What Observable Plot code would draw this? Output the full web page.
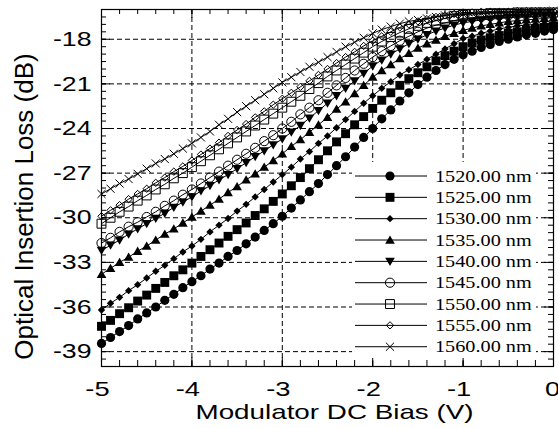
<!DOCTYPE html>
<html><head><meta charset="utf-8">
<script src="https://cdn.jsdelivr.net/npm/d3@7"></script>
<script src="https://cdn.jsdelivr.net/npm/@observablehq/plot@0.6"></script>
<style>body{margin:0;background:#fff;}</style>
</head><body><div id="chart"></div>
<script>
const bias = [-5.0,-4.9,-4.8,-4.7,-4.6,-4.5,-4.4,-4.3,-4.2,-4.1,-4.0,-3.9,-3.8,-3.7,-3.6,-3.5,-3.4,-3.3,-3.2,-3.1,-3.0,-2.9,-2.8,-2.7,-2.6,-2.5,-2.4,-2.3,-2.2,-2.1,-2.0,-1.9,-1.8,-1.7,-1.6,-1.5,-1.4,-1.3,-1.2,-1.1,-1.0,-0.9,-0.8,-0.7,-0.6,-0.5,-0.4,-0.3,-0.2,-0.1,0.0];
const wavelengths = ["1520.00 nm","1525.00 nm","1530.00 nm","1535.00 nm","1540.00 nm","1545.00 nm","1550.00 nm","1555.00 nm","1560.00 nm"];
const loss1520 = [-38.45,-38.05,-37.65,-37.25,-36.8,-36.4,-36.0,-35.55,-35.15,-34.7,-34.3,-33.9,-33.45,-33.05,-32.6,-32.2,-31.75,-31.3,-30.85,-30.4,-29.9,-29.35,-28.8,-28.25,-27.7,-27.1,-26.5,-25.9,-25.25,-24.6,-24.0,-23.35,-22.75,-22.15,-21.6,-21.05,-20.55,-20.1,-19.7,-19.35,-19.05,-18.8,-18.55,-18.35,-18.15,-18.0,-17.85,-17.7,-17.6,-17.45,-17.35];
const loss1525 = [-37.3,-36.9,-36.45,-36.05,-35.6,-35.2,-34.75,-34.35,-33.9,-33.5,-33.05,-32.6,-32.15,-31.7,-31.25,-30.8,-30.35,-29.85,-29.4,-28.9,-28.4,-27.85,-27.3,-26.7,-26.1,-25.5,-24.9,-24.35,-23.75,-23.2,-22.65,-22.1,-21.6,-21.1,-20.65,-20.25,-19.85,-19.45,-19.1,-18.8,-18.5,-18.25,-18.05,-17.9,-17.75,-17.6,-17.5,-17.4,-17.3,-17.2,-17.1];
const loss1530 = [-36.2,-35.75,-35.35,-34.9,-34.5,-34.05,-33.6,-33.2,-32.75,-32.3,-31.9,-31.45,-30.95,-30.5,-30.05,-29.55,-29.1,-28.6,-28.1,-27.6,-27.1,-26.6,-26.05,-25.55,-25.0,-24.5,-23.95,-23.4,-22.85,-22.3,-21.8,-21.3,-20.85,-20.4,-20.05,-19.7,-19.35,-19.0,-18.65,-18.3,-17.95,-17.8,-17.6,-17.45,-17.3,-17.2,-17.1,-17.05,-17.0,-16.95,-16.9];
const loss1535 = [-33.8,-33.4,-33.0,-32.65,-32.25,-31.9,-31.5,-31.1,-30.75,-30.35,-29.95,-29.55,-29.15,-28.75,-28.3,-27.9,-27.45,-27.05,-26.6,-26.15,-25.7,-25.2,-24.75,-24.25,-23.75,-23.25,-22.7,-22.2,-21.65,-21.1,-20.55,-20.1,-19.7,-19.3,-18.95,-18.6,-18.3,-18.05,-17.8,-17.6,-17.4,-17.25,-17.1,-17.0,-16.9,-16.8,-16.75,-16.7,-16.65,-16.6,-16.55];
const loss1540 = [-32.2,-31.85,-31.5,-31.1,-30.75,-30.4,-30.05,-29.7,-29.3,-28.95,-28.6,-28.2,-27.85,-27.45,-27.1,-26.7,-26.3,-25.9,-25.5,-25.1,-24.7,-24.25,-23.8,-23.3,-22.8,-22.3,-21.8,-21.3,-20.8,-20.3,-19.8,-19.4,-19.0,-18.65,-18.3,-18.0,-17.7,-17.45,-17.25,-17.05,-16.9,-16.8,-16.7,-16.65,-16.6,-16.55,-16.5,-16.5,-16.45,-16.4,-16.4];
const loss1545 = [-31.7,-31.35,-30.95,-30.6,-30.3,-29.95,-29.6,-29.2,-28.85,-28.45,-28.1,-27.7,-27.3,-26.9,-26.5,-26.1,-25.7,-25.3,-24.85,-24.45,-24.0,-23.55,-23.05,-22.6,-22.1,-21.6,-21.1,-20.6,-20.1,-19.65,-19.2,-18.8,-18.45,-18.1,-17.8,-17.5,-17.25,-17.05,-16.9,-16.75,-16.6,-16.55,-16.5,-16.45,-16.4,-16.4,-16.35,-16.35,-16.3,-16.3,-16.3];
const loss1550 = [-30.4,-30.0,-29.6,-29.25,-28.85,-28.5,-28.1,-27.75,-27.35,-27.0,-26.6,-26.2,-25.8,-25.4,-25.0,-24.6,-24.2,-23.8,-23.4,-23.0,-22.6,-22.2,-21.8,-21.35,-20.95,-20.5,-20.1,-19.7,-19.3,-18.9,-18.5,-18.15,-17.85,-17.55,-17.3,-17.1,-16.9,-16.75,-16.6,-16.45,-16.35,-16.3,-16.3,-16.25,-16.25,-16.25,-16.2,-16.2,-16.2,-16.2,-16.2];
const loss1555 = [-29.9,-29.5,-29.15,-28.75,-28.4,-28.05,-27.65,-27.3,-26.9,-26.55,-26.15,-25.75,-25.35,-24.95,-24.5,-24.1,-23.7,-23.25,-22.85,-22.4,-22.0,-21.6,-21.2,-20.8,-20.4,-20.0,-19.6,-19.2,-18.85,-18.45,-18.1,-17.8,-17.5,-17.2,-17.0,-16.8,-16.65,-16.5,-16.4,-16.3,-16.2,-16.2,-16.15,-16.15,-16.15,-16.15,-16.1,-16.1,-16.1,-16.1,-16.1];
const loss1560 = [-28.4,-28.05,-27.7,-27.4,-27.05,-26.7,-26.35,-26.05,-25.7,-25.35,-25.0,-24.6,-24.2,-23.75,-23.35,-22.9,-22.5,-22.1,-21.7,-21.3,-20.9,-20.55,-20.2,-19.85,-19.55,-19.2,-18.85,-18.5,-18.2,-17.9,-17.6,-17.35,-17.15,-16.95,-16.8,-16.7,-16.6,-16.5,-16.4,-16.35,-16.3,-16.25,-16.25,-16.2,-16.2,-16.2,-16.15,-16.15,-16.1,-16.1,-16.1];
const xTicks = [-5,-4,-3,-2,-1,0];
const yTicks = [-39,-36,-33,-30,-27,-24,-21,-18];
const xLabel = "Modulator DC Bias (V)";
const yLabel = "Optical Insertion Loss (dB)";

const R = 4.6;
function rad(size){ return Math.sqrt(size/Math.PI); }
const symCircle = {draw(c,s){const r=rad(s); c.moveTo(r,0); c.arc(0,0,r,0,2*Math.PI); c.closePath();}};
const symSquare = {draw(c,s){const h=rad(s)*0.97; c.rect(-h,-h,2*h,2*h);}};
const symDiamond = {draw(c,s){const r=rad(s)*0.8; c.moveTo(0,-r); c.lineTo(r,0); c.lineTo(0,r); c.lineTo(-r,0); c.closePath();}};
const symUp = {draw(c,s){const r=rad(s); c.moveTo(0,-r); c.lineTo(r*1.05,r*0.8); c.lineTo(-r*1.05,r*0.8); c.closePath();}};
const symDown = {draw(c,s){const r=rad(s); c.moveTo(0,r); c.lineTo(r*1.05,-r*0.8); c.lineTo(-r*1.05,-r*0.8); c.closePath();}};
const symTimes = {draw(c,s){const r=rad(s)*0.88; c.moveTo(-r,-r); c.lineTo(r,r); c.moveTo(r,-r); c.lineTo(-r,r);}};

const seriesValues = [loss1520,loss1525,loss1530,loss1535,loss1540,loss1545,loss1550,loss1555,loss1560];
const styles = [
  {symbol:symCircle, fill:"black", stroke:"none"},
  {symbol:symSquare, fill:"black", stroke:"none"},
  {symbol:symDiamond, fill:"black", stroke:"none"},
  {symbol:symUp, fill:"black", stroke:"none"},
  {symbol:symDown, fill:"black", stroke:"none"},
  {symbol:symCircle, fill:"none", stroke:"black"},
  {symbol:symSquare, fill:"none", stroke:"black"},
  {symbol:symDiamond, fill:"none", stroke:"black"},
  {symbol:symTimes, fill:"none", stroke:"black"}
];
const series = wavelengths.map((w,i)=>({label:w, rows: bias.map((b,j)=>({bias:b, loss:seriesValues[i][j]})), ...styles[i]}));

const W = 558, H = 428, ML = 101, MR = 5, MT = 9, MB = 62;
const IW = W-ML-MR, IH = H-MT-MB;
const yMinor = d3.range(-40, -15.99, 0.5);
const xMinor = d3.range(-5, 0.001, 0.2);

const marks = [
  Plot.ruleY(yTicks, {y: d=>d, stroke:"black", strokeWidth:1, strokeDasharray:"5,3"}),
  Plot.ruleX(xTicks.slice(1,-1), {x: d=>d, stroke:"black", strokeWidth:1, strokeDasharray:"5,3"})
];
series.forEach(s=>{
  marks.push(Plot.line(s.rows, {x:"bias", y:"loss", stroke:"black", strokeWidth:1}));
  marks.push(Plot.dot(s.rows, {x:"bias", y:"loss", r:R, symbol:s.symbol, fill:s.fill, stroke:s.stroke, strokeWidth:1}));
});
marks.push(
  Plot.tickY(yMinor, {y:d=>d, stroke:"black", insetRight: IW-5}),
  Plot.tickY(yMinor, {y:d=>d, stroke:"black", insetLeft: IW-5}),
  Plot.tickY(yTicks, {y:d=>d, stroke:"black", insetRight: IW-9}),
  Plot.tickY(yTicks, {y:d=>d, stroke:"black", insetLeft: IW-9}),
  Plot.tickX(xMinor, {x:d=>d, stroke:"black", insetTop: IH-6}),
  Plot.tickX(xMinor, {x:d=>d, stroke:"black", insetBottom: IH-5}),
  Plot.tickX(xTicks, {x:d=>d, stroke:"black", insetTop: IH-9}),
  Plot.tickX(xTicks, {x:d=>d, stroke:"black", insetBottom: IH-9}),
  Plot.frame({stroke:"black", strokeWidth:1.2}),
  Plot.text([xLabel], {frameAnchor:"bottom", text:d=>d, textAnchor:"middle", lineAnchor:"middle", dx:7, dy:46, fontSize:21, fill:"black"}),
  Plot.text([yLabel], {frameAnchor:"left", text:d=>d, rotate:-90, textAnchor:"middle", lineAnchor:"middle", dx:-77, dy:18.5, fontSize:26, fill:"black"})
);

const svg = Plot.plot({
  width:W, height:H, marginLeft:ML, marginRight:MR, marginTop:MT, marginBottom:MB,
  style:{fontFamily:"'Liberation Sans', Arial, sans-serif", fontSize:"21px", background:"white", color:"black", overflow:"visible"},
  x:{domain:[-5,0], ticks:xTicks, tickSize:0, tickPadding:15, tickFormat:d=>String(d), label:null},
  y:{domain:[-40,-16], ticks:yTicks, tickSize:0, tickPadding:10, tickFormat:d=>String(d), label:null},
  marks
});
document.getElementById("chart").appendChild(svg);

// legend
const lg = d3.select(svg).append("g").attr("class","legend").attr("text-anchor","start");
lg.append("rect").attr("x",352).attr("y",162).attr("width",184).attr("height",196).attr("fill","white");
series.forEach((s,i)=>{
  const cy = 176 + i*21.34;
  lg.append("line").attr("x1",355).attr("x2",427).attr("y1",cy).attr("y2",cy).attr("stroke","black").attr("stroke-width",1);
  const p = d3.path(); s.symbol.draw(p, Math.PI*R*R);
  lg.append("path").attr("transform",`translate(390,${cy})`).attr("d",p.toString()).attr("fill",s.fill).attr("stroke",s.stroke).attr("stroke-width",1);
  lg.append("text").attr("x",435).attr("y",cy+5.7).attr("text-anchor","start").attr("font-family","'Liberation Serif', 'Times New Roman', serif").attr("font-size",17).attr("fill","black").attr("class","lgtext").text(s.label);
});

function stretch(t, f){ const L = t.getComputedTextLength(); t.setAttribute("textLength", (L*f).toFixed(1)); t.setAttribute("lengthAdjust","spacingAndGlyphs"); }
svg.querySelectorAll('[aria-label^="x-axis"] text').forEach(t=>{ stretch(t,1.3); t.setAttribute("dx", t.textContent.trim()==="0" ? "-1" : "-4"); });
svg.querySelectorAll('[aria-label^="y-axis"] text').forEach(t=>{ stretch(t,1.27); });
svg.querySelectorAll('text.lgtext').forEach(t=>stretch(t,1.19));
svg.querySelectorAll('text').forEach(t=>{ if (t.textContent===xLabel){ t.setAttribute("textLength","278"); t.setAttribute("lengthAdjust","spacingAndGlyphs"); }});
</script>
</body></html>
